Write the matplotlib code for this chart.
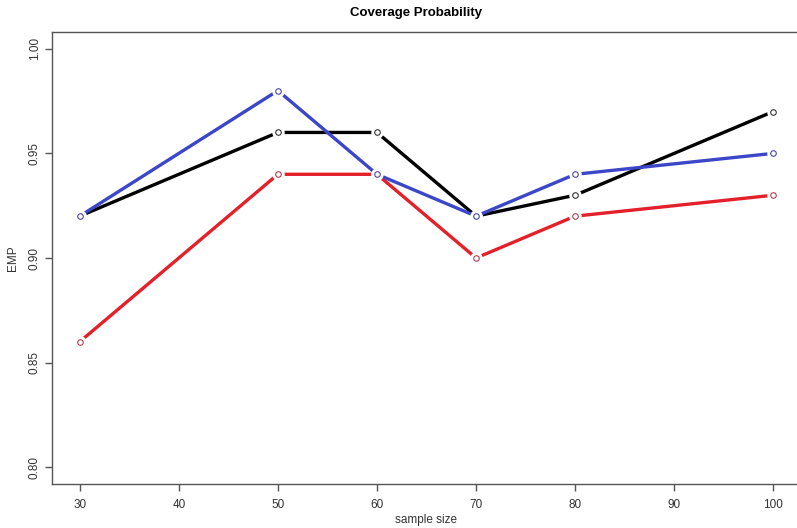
import matplotlib
matplotlib.use("Agg")
import matplotlib.pyplot as plt

plt.rcParams["font.family"] = ["Liberation Sans", "DejaVu Sans"]

sample_size = [30, 50, 60, 70, 80, 100]
emp_black = [0.92, 0.96, 0.96, 0.92, 0.93, 0.97]
emp_red = [0.86, 0.94, 0.94, 0.90, 0.92, 0.93]
emp_blue = [0.92, 0.98, 0.94, 0.92, 0.94, 0.95]

series = [
    (emp_black, "#000000", "#333333"),
    (emp_red, "#e4202a", "#b04050"),
    (emp_blue, "#3c46c8", "#4a4a9a"),
]

fig = plt.figure(figsize=(7.97, 5.28), dpi=100)
ax = fig.add_axes([52 / 797, 44 / 528, 749 / 797, 452 / 528])

z = 2
for vals, col, mcol in series:
    ax.plot(sample_size, vals, color=col, lw=2.4, solid_capstyle="butt", zorder=z)
    # gap around points, like R type="b"
    ax.plot(sample_size, vals, ls="none", marker="o", ms=9, mfc="white",
            mec="none", zorder=z + 0.1)
    ax.plot(sample_size, vals, ls="none", marker="o", ms=4, mfc="white",
            mec=mcol, mew=0.8, zorder=z + 0.2)
    z += 1

ax.set_xlim(27.2, 102.8)
ax.set_ylim(0.792, 1.008)
ax.set_xticks(range(30, 101, 10))
ax.set_yticks([0.80, 0.85, 0.90, 0.95, 1.00])
ax.set_yticklabels(["0.80", "0.85", "0.90", "0.95", "1.00"], rotation=90, va="center")

for sp in ax.spines.values():
    sp.set_color("#555555")
    sp.set_linewidth(1.0)
ax.tick_params(direction="out", length=5, width=1.0, color="#555555",
               labelsize=8.5, labelcolor="#333333")
ax.tick_params(axis="x", pad=6)
ax.tick_params(axis="y", pad=3)

fig.text(426 / 797, 1 - 520 / 528, "sample size", ha="center", va="center",
         fontsize=8.5, color="#333333")
fig.text(13 / 797, 1 - 258 / 528, "EMP", ha="center", va="center",
         rotation=90, fontsize=8.5, color="#333333")
fig.text(0.522, 0.975, "Coverage Probability", ha="center", va="center",
         fontsize=9.5, fontweight="bold")

fig.savefig("out.png", dpi=100)
